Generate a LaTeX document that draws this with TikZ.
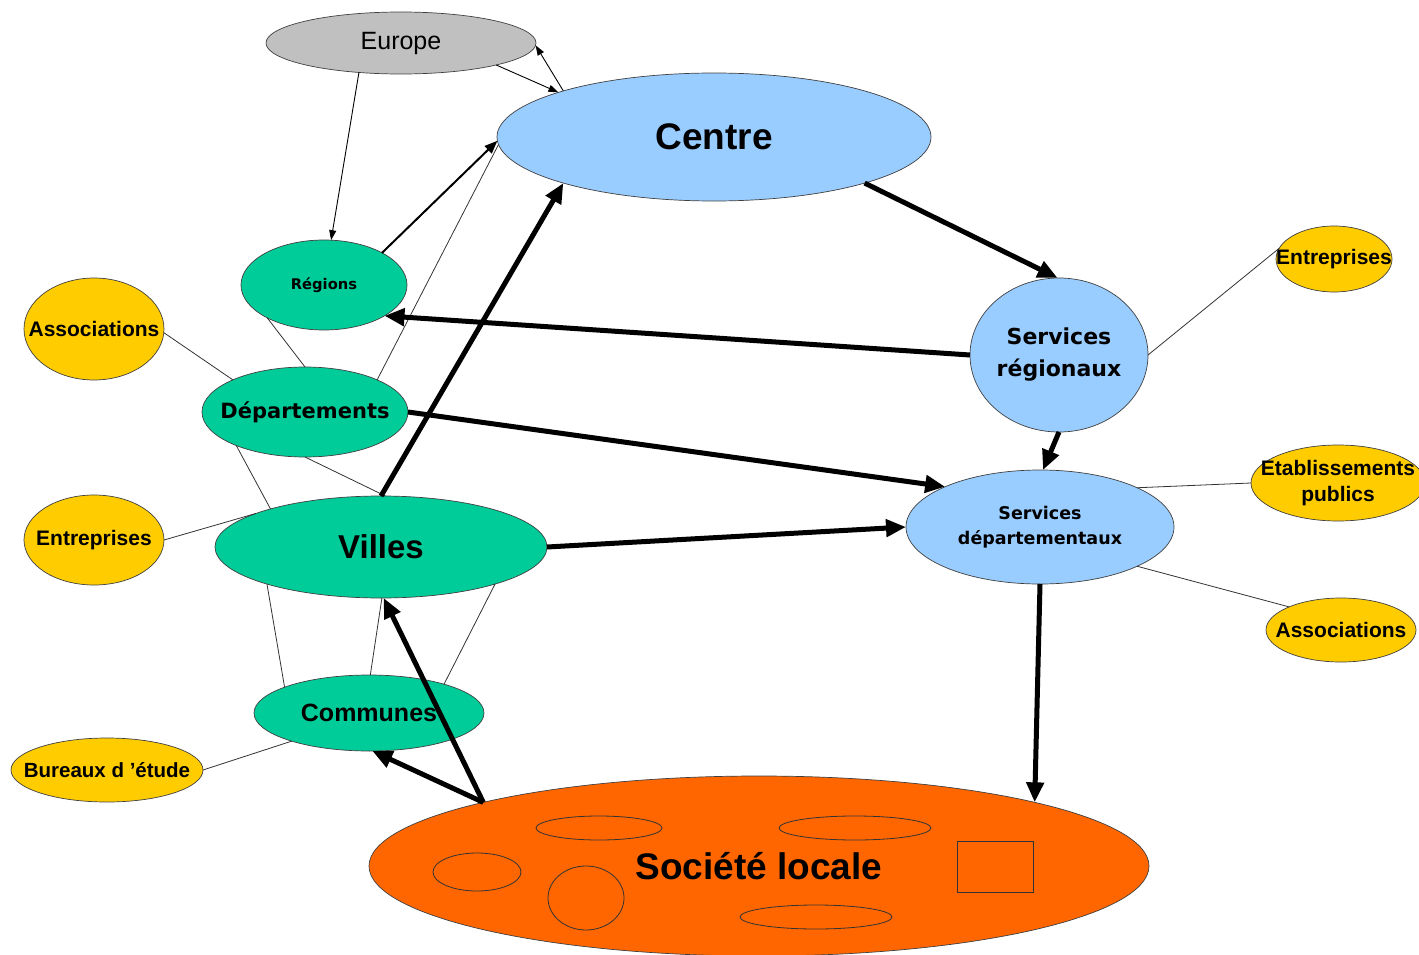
\documentclass[tikz,border=0pt]{standalone}
\usepackage{fontspec}
\setmainfont{Liberation Sans}
\newfontfamily\dvs{DejaVu Sans}
\usetikzlibrary{shapes.geometric,arrows.meta}
\definecolor{cblue}{HTML}{99CCFF}
\definecolor{cgreen}{HTML}{00CC99}
\definecolor{cyellow}{HTML}{FFCC00}
\definecolor{corange}{HTML}{FF6600}
\definecolor{cgray}{HTML}{C0C0C0}
\begin{document}
\begin{tikzpicture}[x=1pt,y=-1pt,
  el/.style={ellipse,draw=black!75,line width=0.7pt,inner sep=0pt,outer sep=0pt},
  lbl/.style={inner sep=0pt,align=center,text=black},
  conn/.style={draw=black!80,line width=0.8pt},
  tarr/.style={black,line width=0.9pt,-{Triangle[length=10pt,width=7pt]}},
  marr/.style={black,line width=2pt,-{Triangle[length=13pt,width=10pt]}},
  barr/.style={black,line width=5pt,-{Triangle[length=20pt,width=17pt]}},
  deco/.style={draw=black!80,line width=0.8pt}
]
\useasboundingbox (0,0) rectangle (1419,955);

% nodes
\node[el,fill=cgray,minimum width=270pt,minimum height=62pt,
  label={[lbl,font=\fontsize{25}{30}\selectfont]center:Europe}] (europe) at (401,43) {};
\node[el,fill=cblue,minimum width=434pt,minimum height=128pt,
  label={[lbl,font=\fontsize{37}{44}\selectfont\bfseries]center:Centre}] (centre) at (714,137) {};
\node[el,fill=cgreen,minimum width=166pt,minimum height=90pt,
  label={[lbl,font=\dvs\fontsize{14.7}{18}\selectfont\bfseries]center:Régions}] (regions) at (324,285) {};
\node[el,fill=cyellow,minimum width=140pt,minimum height=102pt,
  label={[lbl,font=\fontsize{21}{26}\selectfont\bfseries]center:Associations}] (assocL) at (94,329) {};
\node[el,fill=cgreen,minimum width=206pt,minimum height=90pt,
  label={[lbl,font=\dvs\fontsize{21}{26}\selectfont\bfseries]center:Départements}] (departements) at (305,412) {};
\node[el,fill=cyellow,minimum width=140pt,minimum height=90pt,
  label={[lbl,font=\fontsize{21}{26}\selectfont\bfseries]center:Entreprises}] (entL) at (94,540) {};
\node[el,fill=cgreen,minimum width=332pt,minimum height=102pt,
  label={[lbl,font=\fontsize{33}{40}\selectfont\bfseries]center:Villes}] (villes) at (381,547) {};
\node[el,fill=cgreen,minimum width=230pt,minimum height=76pt,
  label={[lbl,font=\fontsize{25}{30}\selectfont\bfseries]center:Communes}] (communes) at (369,713) {};
\node[el,fill=cyellow,minimum width=192pt,minimum height=64pt,
  label={[lbl,font=\fontsize{20.5}{25}\selectfont\bfseries]center:Bureaux d 'étude}] (bureaux) at (107,770) {};
\node[el,fill=corange,minimum width=780pt,minimum height=180pt,
  label={[lbl,font=\fontsize{37}{44}\selectfont\bfseries]center:Société locale}] (societe) at (759,866) {};
\node[el,fill=cblue,minimum width=178pt,minimum height=154pt,
  label={[lbl,font=\dvs\fontsize{22}{32}\selectfont\bfseries]center:{Services\\régionaux}}] (sr) at (1059,355) {};
\node[el,fill=cblue,minimum width=268pt,minimum height=114pt,
  label={[lbl,font=\dvs\fontsize{17.5}{25}\selectfont\bfseries]center:{Services\\départementaux}}] (sd) at (1040,527) {};
\node[el,fill=cyellow,minimum width=116pt,minimum height=66pt,
  label={[lbl,font=\fontsize{21}{26}\selectfont\bfseries]center:Entreprises}] (entR) at (1334,259) {};
\node[el,fill=cyellow,minimum width=174pt,minimum height=76pt,
  label={[lbl,font=\fontsize{21}{26}\selectfont\bfseries]center:{Etablissements\\publics}}] (etab) at (1338,483) {};
\node[el,fill=cyellow,minimum width=150pt,minimum height=64pt,
  label={[lbl,font=\fontsize{21}{26}\selectfont\bfseries]center:Associations}] (assocR) at (1341,630) {};

% decorations inside Société locale
\draw[deco] (599,828) ellipse [x radius=63pt, y radius=12pt];
\draw[deco] (855,828) ellipse [x radius=76pt, y radius=12pt];
\draw[deco] (477,872) ellipse [x radius=44pt, y radius=19pt];
\draw[deco] (586,898) ellipse [x radius=38pt, y radius=32pt];
\draw[deco] (816,917) ellipse [x radius=76pt, y radius=12pt];
\draw[deco] (957,841) rectangle (1033,892);

% thin links
\draw[conn] (departements.24) -- (centre.182);
\draw[conn] (regions.210) -- (departements.90);
\draw[conn] (assocL.357) -- (departements.156);
\draw[conn] (departements.206) -- (villes.161);
\draw[conn] (departements.270) -- (villes.85);
\draw[conn] (entL.0) -- (villes.165);
\draw[conn] (villes.198) -- (communes.163);
\draw[conn] (villes.271) -- (communes.88);
\draw[conn] (villes.342) -- (communes.21);
\draw[conn] (bureaux.0) -- (communes.200);
\draw[conn] (sr.0) -- (entR.169);
\draw[conn] (sd.22) -- (etab.180);
\draw[conn] (sd.338) -- (assocR.156);

% thin arrows
\draw[tarr] (europe.215) -- (regions.81);
\draw[tarr] (europe.347) -- (centre.164);
\draw[tarr] (centre.163) -- (europe.359);
\draw[marr] (regions.29) -- (centre.181);

% thick arrows
\draw[barr] (centre.343) -- (sr.91);
\draw[barr] (sr.180) -- (regions.333);
\draw[barr] (departements.0) -- (sd.157);
\draw[barr] (villes.90) -- (centre.197);
\draw[barr] (villes.0) -- (sd.180);
\draw[barr] (sr.270) -- (sd.87);
\draw[barr] (sd.270) -- (societe.13);
\draw[barr] (societe.167) -- (villes.273);
\draw[barr] (societe.167) -- (communes.275);
\end{tikzpicture}
\end{document}
